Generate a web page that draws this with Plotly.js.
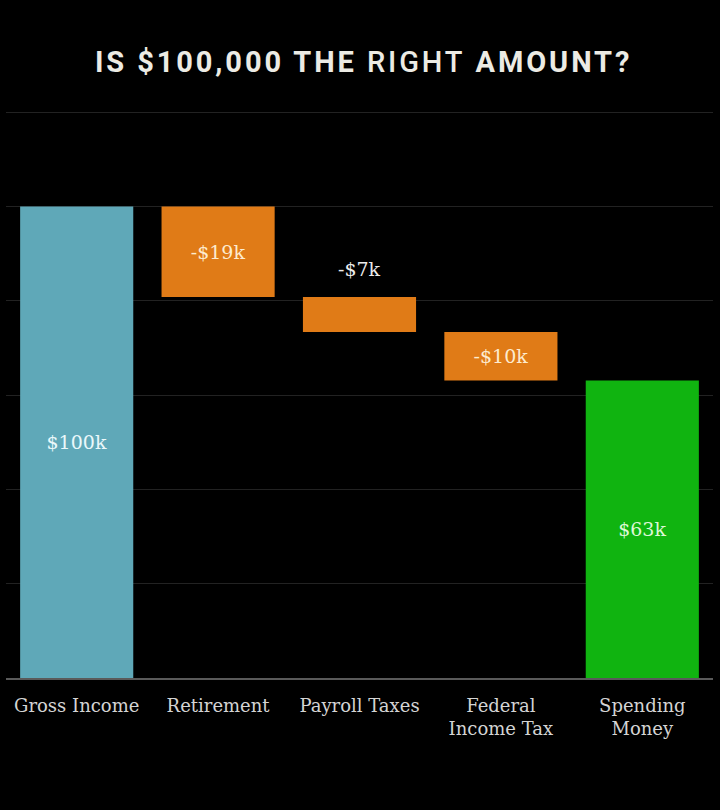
<!DOCTYPE html>
<html>
<head>
<meta charset="utf-8">
<script src="https://cdn.plot.ly/plotly-3.0.1.min.js"></script>
<style>
  html, body { margin: 0; padding: 0; background: #000; }
  #chart { width: 720px; height: 810px; }
</style>
</head>
<body>
<div id="chart"></div>
<script>
// ---- data (thousands of dollars) ----
const categories = ['Gross Income', 'Retirement', 'Payroll Taxes', 'Federal<br>Income Tax', 'Spending<br>Money'];
const grossIncome = 100;
const deductions = [-19.2, -7.4, -10.3];          // Retirement, Payroll Taxes, Federal Income Tax
const barColors = ['#5fa8b8', '#e07b17', '#e07b17', '#e07b17', '#10b410'];
const labelColors = ['#eaf8fb', '#fdebcf', '#ececec', '#fdebcf', '#ddf8d6'];
const labelOutside = [false, false, true, false, false];

// ---- build waterfall geometry from the values ----
const spending = grossIncome + deductions.reduce((a, b) => a + b, 0);
const bases = [], heights = [], labels = [];
bases.push(0); heights.push(grossIncome); labels.push('$' + Math.round(grossIncome) + 'k');
let running = grossIncome;
deductions.forEach(d => {
  const next = running + d;
  bases.push(next); heights.push(-d);
  labels.push('-$' + Math.round(-d) + 'k');
  running = next;
});
bases.push(0); heights.push(spending); labels.push('$' + Math.round(spending) + 'k');

const slab = '"DejaVu Serif", serif';

const trace = {
  type: 'bar',
  x: categories,
  y: heights,
  base: bases,
  marker: { color: barColors, line: { width: 0 } },
  text: labels.map((t, i) => labelOutside[i] ? '' : t),
  textposition: 'inside',
  insidetextanchor: 'middle',
  textangle: 0,
  constraintext: 'none',
  textfont: { family: slab, size: 19, color: labelColors },
  hoverinfo: 'skip',
  cliponaxis: false
};

const annotations = [];
labels.forEach((t, i) => {
  if (!labelOutside[i]) return;
  annotations.push({
    x: categories[i], y: bases[i] + heights[i],
    xref: 'x', yref: 'y',
    text: t, showarrow: false,
    yanchor: 'bottom', yshift: 15,
    font: { family: slab, size: 19, color: labelColors[i] }
  });
});

const layout = {
  width: 720,
  height: 810,
  paper_bgcolor: '#000',
  plot_bgcolor: '#000',
  margin: { l: 6, r: 7, t: 100, b: 132 },
  showlegend: false,
  bargap: 0.2,
  annotations: annotations,
  title: {
    text: 'IS $100,000 THE <span style="font-weight:500">RIGHT</span> AMOUNT?',
    font: { family: 'Roboto, "DejaVu Sans", sans-serif', size: 29, color: '#ecebe4', weight: 700 },
    x: 0.505, xanchor: 'center',
    y: 1 - 62 / 810, yanchor: 'middle'
  },
  xaxis: {
    type: 'category',
    showgrid: false,
    zeroline: false,
    showline: true,
    linecolor: '#5a5a5a',
    linewidth: 2,
    ticks: 'outside',
    ticklen: 10,
    tickcolor: 'rgba(0,0,0,0)',
    tickfont: { family: slab, size: 18, color: '#d4d4d4' },
    fixedrange: true
  },
  yaxis: {
    range: [0, 122.6],
    dtick: 20,
    showgrid: true,
    gridcolor: '#222222',
    gridwidth: 1,
    zeroline: false,
    showticklabels: false,
    showline: false,
    fixedrange: true
  }
};

Plotly.newPlot('chart', [trace], layout, { displayModeBar: false, staticPlot: true }).then(() => {
  document.querySelectorAll('.gtitle').forEach(t => { t.style.letterSpacing = '2.9px'; });
});
</script>
</body>
</html>
